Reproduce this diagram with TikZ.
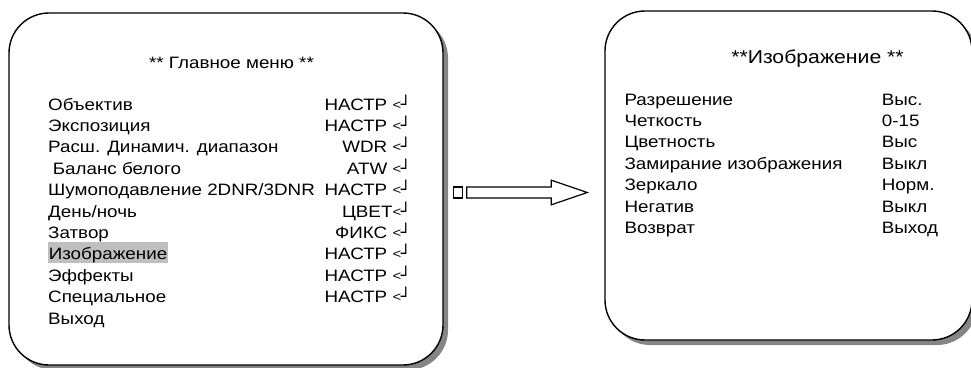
\documentclass[tikz,border=0pt]{standalone}
\usepackage{fontspec}
\setmainfont{Liberation Sans}[FakeStretch=1.14]
\newfontfamily\boxfont{DejaVu Sans}
\usetikzlibrary{shadows}
\newcommand{\retmark}{\raisebox{1pt}{\fontsize{13}{13}\selectfont<}\kern-0.3pt{\boxfont ┘}}
\begin{document}
\begin{tikzpicture}[x=1pt,y=-1pt,
  font=\fontsize{16.5}{21.4}\selectfont,
  menu/.style={draw, line width=1.4pt, fill=white, rounded corners=40pt,
    inner sep=0pt,
    drop shadow={shadow xshift=5pt, shadow yshift=-5pt, fill=black!48, opacity=1}},
  item/.style={anchor=base west, inner sep=0pt},
  val/.style={anchor=base east, inner sep=0pt},
  opt/.style={anchor=base west, inner sep=0pt},
  sel/.style={item, fill=black!25, inner xsep=0.6pt, text height=17.6pt, text depth=3.3pt},
  blockarrow/.style={draw, line width=1.2pt, fill=white, line join=miter}]
\useasboundingbox (0,0) rectangle (971,367);

% the two menu screens
\node[menu, minimum width=434pt, minimum height=352pt] (main) at (226,189) {};
\node[menu, minimum width=367pt, minimum height=329pt] (pic) at (788.5,175.5) {};

% main menu
\node[anchor=base] (mtitle) at (231.5,68) {** Главное меню **};
\def\rowy#1{110+21.4*#1}
\node[item] (m1)  at (48,{\rowy{0}})  {Объектив};
\node[item] (m2)  at (48,{\rowy{1}})  {Экспозиция};
\node[item] (m3)  at (48,{\rowy{2}})  {Расш. Динамич. диапазон};
\node[item] (m4)  at (52.6,{\rowy{3}}) {Баланс белого};
\node[item] (m5)  at (48,{\rowy{4}})  {Шумоподавление 2DNR/3DNR};
\node[item] (m6)  at (48,{\rowy{5}})  {День/ночь};
\node[item] (m7)  at (48,{\rowy{6}})  {Затвор};
\node[sel]  (m8)  at (48,{\rowy{7}})  {Изображение};
\node[item] (m9)  at (48,{\rowy{8}})  {Эффекты};
\node[item] (m10) at (48,{\rowy{9}})  {Специальное};
\node[item] (m11) at (48,{\rowy{10}}) {Выход};

\node[val] (v1)  at (411,{\rowy{0}}) {НАСТР \retmark};
\node[val] (v2)  at (411,{\rowy{1}}) {НАСТР \retmark};
\node[val] (v3)  at (411,{\rowy{2}}) {WDR \retmark};
\node[val] (v4)  at (411,{\rowy{3}}) {ATW \retmark};
\node[val] (v5)  at (411,{\rowy{4}}) {НАСТР \retmark};
\node[val] (v6)  at (411,{\rowy{5}}) {ЦВЕТ\retmark};
\node[val] (v7)  at (411,{\rowy{6}}) {ФИКС \retmark};
\node[val] (v8)  at (411,{\rowy{7}}) {НАСТР \retmark};
\node[val] (v9)  at (411,{\rowy{8}}) {НАСТР \retmark};
\node[val] (v10) at (411,{\rowy{9}}) {НАСТР \retmark};

% image submenu
\node[anchor=base, font=\fontsize{18.6}{22}\selectfont] (ptitle) at (817.5,63) {**Изображение **};
\def\suby#1{105+21.4*#1}
\node[item] (p1) at (624.3,{\suby{0}}) {Разрешение};
\node[item] (p2) at (624.3,{\suby{1}}) {Четкость};
\node[item] (p3) at (624.3,{\suby{2}}) {Цветность};
\node[item] (p4) at (624.3,{\suby{3}}) {Замирание изображения};
\node[item] (p5) at (624.3,{\suby{4}}) {Зеркало};
\node[item] (p6) at (624.3,{\suby{5}}) {Негатив};
\node[item] (p7) at (624.3,{\suby{6}}) {Возврат};

\node[opt] (o1) at (881.7,{\suby{0}}) {Выс.};
\node[opt] (o2) at (881.7,{\suby{1}}) {0-15};
\node[opt] (o3) at (881.7,{\suby{2}}) {Выс};
\node[opt] (o4) at (881.7,{\suby{3}}) {Выкл};
\node[opt] (o5) at (881.7,{\suby{4}}) {Норм.};
\node[opt] (o6) at (881.7,{\suby{5}}) {Выкл};
\node[opt] (o7) at (881.7,{\suby{6}}) {Выход};

% block arrow from the main menu to the submenu
\coordinate (a0) at ([xshift=10pt]main.east |- 0,192.5);
\coordinate (a1) at ([xshift=-17pt]pic.west |- 0,192.5);
\draw[blockarrow] ([shift={(0,-5.5)}]a0) rectangle ++(9,11);
\draw[blockarrow] ([shift={(13,-5.5)}]a0) -- ([shift={(-36,-5.5)}]a1)
  -- ([shift={(-36,-12.3)}]a1) -- (a1) -- ([shift={(-36,12.3)}]a1)
  -- ([shift={(-36,5.5)}]a1) -- ([shift={(13,5.5)}]a0) -- cycle;
\end{tikzpicture}
\end{document}
